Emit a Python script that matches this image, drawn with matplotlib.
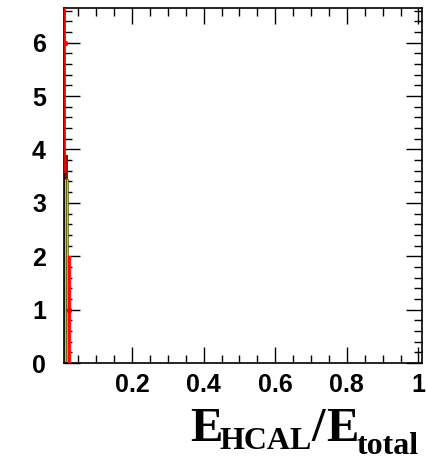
import numpy as np
import matplotlib
matplotlib.use("Agg")
import matplotlib.pyplot as plt
from matplotlib.ticker import MultipleLocator, FixedLocator

# stacked histogram near zero (yellow part, dark red part on top)
yel_left = [0.010, 0.016]
yel_width = [0.006, 0.006]
yel_height = [3.45, 3.45]
drk_left = [0.010]
drk_width = [0.012]
drk_bottom = [3.45]
drk_height = [0.45]

# red points with errors
pt_x = [0.0135, 0.0245]
pt_y = [6.0, 1.0]
pt_err = [2.45, 1.0]

# red outline bin
box_left = [0.0215]
box_width = [0.0065]
box_height = [2.0]

xticks = [0.2, 0.4, 0.6, 0.8, 1.0]
xticklabels = ["0.2", "0.4", "0.6", "0.8", "1"]
yticks = [0, 1, 2, 3, 4, 5, 6]

W, H = 427, 461

fig = plt.figure(figsize=(W / 100, H / 100), dpi=100)
ax = fig.add_axes([64/W, 1-363/H, (422-64)/W, (363-8)/H])

ax.bar(yel_left, yel_height, width=yel_width, align='edge',
       color='#cccc00', edgecolor='#303000', linewidth=0.4, zorder=2)
ax.bar(drk_left, drk_height, width=drk_width, bottom=drk_bottom, align='edge',
       color='#aa0000', edgecolor='none', zorder=2)
ax.bar(box_left, box_height, width=box_width, align='edge',
       facecolor='none', edgecolor='#ff2020', linewidth=1.0, zorder=3)
ax.errorbar(pt_x, pt_y, yerr=pt_err, fmt='o', color='red', ms=3,
            elinewidth=1.3, capsize=0, zorder=4)

ax.set_xlim(0.01, 1.01)
ax.set_ylim(0, 6.65)

ax.xaxis.set_major_locator(FixedLocator(xticks))
ax.set_xticklabels(xticklabels)
ax.xaxis.set_minor_locator(MultipleLocator(0.05))
ax.set_yticks(yticks)
ax.yaxis.set_minor_locator(MultipleLocator(0.2))

for lab in ax.get_xticklabels() + ax.get_yticklabels():
    lab.set_fontfamily('Liberation Sans')
    lab.set_fontweight('bold')
    lab.set_fontsize(18)

ax.tick_params(which='both', direction='in', top=True, right=True, width=1.0)
ax.tick_params(which='major', length=11.5)
ax.tick_params(which='minor', length=6)
ax.tick_params(axis='x', which='major', pad=7)
ax.tick_params(axis='y', which='major', pad=13)
for s in ax.spines.values():
    s.set_linewidth(1.2)

# axis title built from pieces: big E, small subscripts
title_parts = [("E", 190, 441, 35), ("HCAL", 220, 449, 23), ("/", 311, 441, 35),
               ("E", 326, 441, 35), ("total", 357, 454, 23)]
for txt, px, py, fs in title_parts:
    fig.text(px / W, 1 - py / H, txt, ha='left', va='baseline',
             fontsize=fs, fontfamily='Liberation Serif', fontweight='bold')

fig.savefig("out.png", dpi=100)
